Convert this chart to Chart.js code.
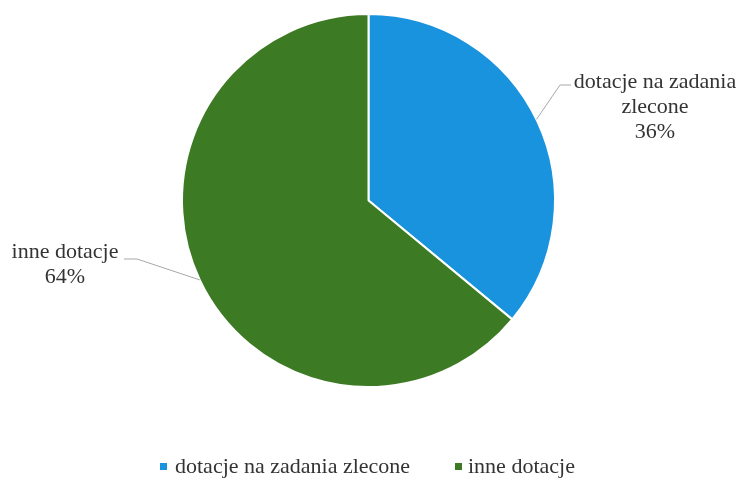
<!DOCTYPE html>
<html>
<head>
<meta charset="utf-8">
<script src="https://cdn.jsdelivr.net/npm/chart.js@4"></script>
<style>
  body { margin: 0; background: #fff; }
  #wrap { width: 741px; height: 478px; }
</style>
</head>
<body>
<div id="wrap"><canvas id="pie" width="741" height="478"></canvas></div>
<script>
const categories = ['dotacje na zadania zlecone', 'inne dotacje'];
const shares = [36, 64];
const sliceColors = ['#1a93de', '#3d7a24'];

const FONT = '"Liberation Serif", "Times New Roman", serif';

// point on the rim of an arc, shifted from its middle angle
function rimPoint(a, shift) {
  const mid = (a.startAngle + a.endAngle) / 2 + shift;
  return [a.x + Math.cos(mid) * a.outerRadius, a.y + Math.sin(mid) * a.outerRadius];
}

// leader lines + labels + legend drawn by hand
const labelsPlugin = {
  id: 'outLabels',
  afterDraw(chart) {
    const ctx = chart.ctx;
    const arcs = chart.getDatasetMeta(0).data;
    ctx.save();
    ctx.strokeStyle = '#a8a8a8';
    ctx.lineWidth = 1;
    ctx.fillStyle = '#333';
    ctx.font = '22px ' + FONT;
    ctx.textAlign = 'center';
    ctx.textBaseline = 'alphabetic';

    // first slice label (right)
    let p = rimPoint(arcs[0], -0.01);
    ctx.beginPath();
    ctx.moveTo(p[0], p[1]);
    ctx.lineTo(560, 85);
    ctx.lineTo(571, 85);
    ctx.stroke();
    ctx.fillText('dotacje na zadania', 655, 88);
    ctx.fillText('zlecone', 655, 113);
    ctx.fillText(shares[0] + '%', 655, 138);

    // second slice label (left)
    p = rimPoint(arcs[1], 0);
    ctx.beginPath();
    ctx.moveTo(p[0], p[1]);
    ctx.lineTo(137, 259);
    ctx.lineTo(124, 259);
    ctx.stroke();
    ctx.fillText('inne dotacje', 65, 258);
    ctx.fillText(shares[1] + '%', 65, 283);

    // legend
    ctx.textAlign = 'left';
    const legendY = 473;
    const items = [[160, 175], [455, 468]];
    items.forEach((it, i) => {
      ctx.fillStyle = sliceColors[i];
      ctx.fillRect(it[0], legendY - 10, 7, 7);
      ctx.fillStyle = '#333';
      ctx.fillText(categories[i], it[1], legendY);
    });
    ctx.restore();
  }
};

new Chart(document.getElementById('pie'), {
  type: 'pie',
  data: {
    labels: categories,
    datasets: [{
      data: shares,
      backgroundColor: sliceColors,
      borderColor: '#ffffff',
      borderWidth: 2
    }]
  },
  options: {
    responsive: false,
    animation: false,
    layout: { padding: { top: 13, bottom: 90, left: 100, right: 104 } },
    plugins: {
      legend: { display: false },
      tooltip: { enabled: false }
    }
  },
  plugins: [labelsPlugin]
});
</script>
</body>
</html>
